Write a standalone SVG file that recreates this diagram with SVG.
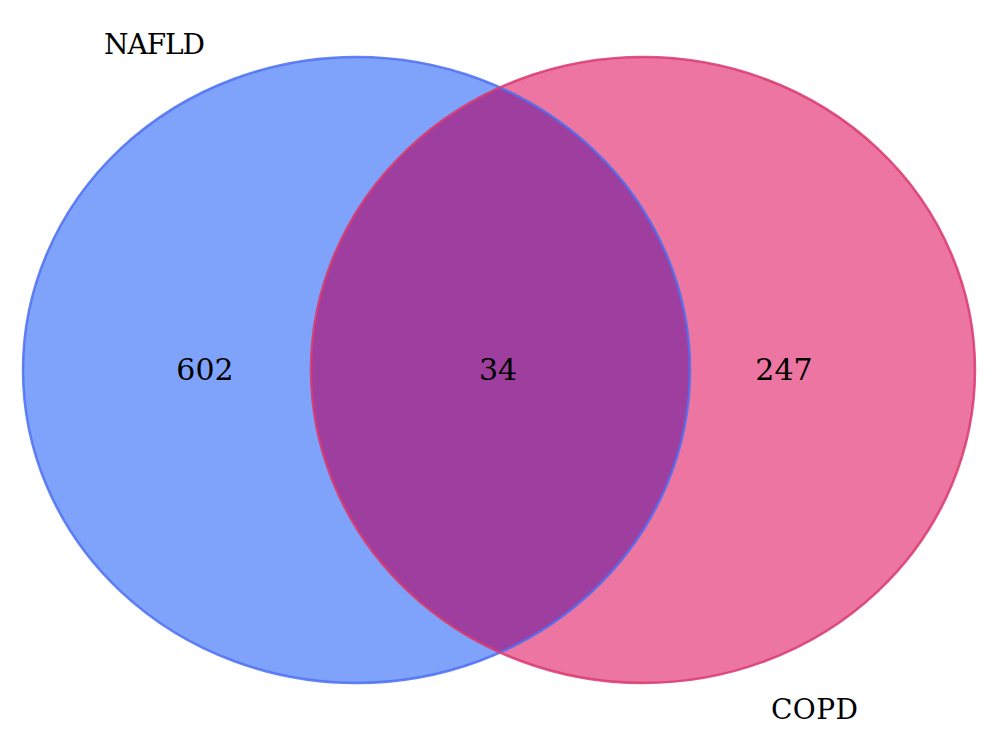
<svg xmlns="http://www.w3.org/2000/svg" width="1000" height="756" viewBox="0 0 1000 756">
<style>
text{font-family:"DejaVu Serif","Liberation Serif",serif;font-size:28px;fill:#000}
.n{text-anchor:middle;font-size:30px}
</style>
<defs>
<clipPath id="clipBlue"><ellipse cx="356.5" cy="370" rx="333.5" ry="313"/></clipPath>
</defs>
<rect width="1000" height="756" fill="#fff"/>
<g id="nafld">
<ellipse cx="356.5" cy="370" rx="333.5" ry="313" fill="#7fa3fb"/>
</g>
<g id="copd">
<ellipse cx="643" cy="370" rx="332" ry="313" fill="#ec75a2"/>
</g>
<g id="overlap">
<ellipse cx="643" cy="370" rx="332" ry="313" fill="#9e3f9f" clip-path="url(#clipBlue)"/>
</g>
<g id="outlines" fill="none" stroke-width="2.5">
<ellipse cx="356.5" cy="370" rx="333.5" ry="313" stroke="#4c6ef2" stroke-opacity="0.85"/>
<ellipse cx="643" cy="370" rx="332" ry="313" stroke="#d8386e" stroke-opacity="0.85"/>
</g>
<g id="labels">
<text x="104" y="54" textLength="101">NAFLD</text>
<text x="771" y="719" textLength="87">COPD</text>
<text class="n" x="205" y="380">602</text>
<text class="n" x="498" y="380">34</text>
<text class="n" x="784" y="380">247</text>
</g>
</svg>
